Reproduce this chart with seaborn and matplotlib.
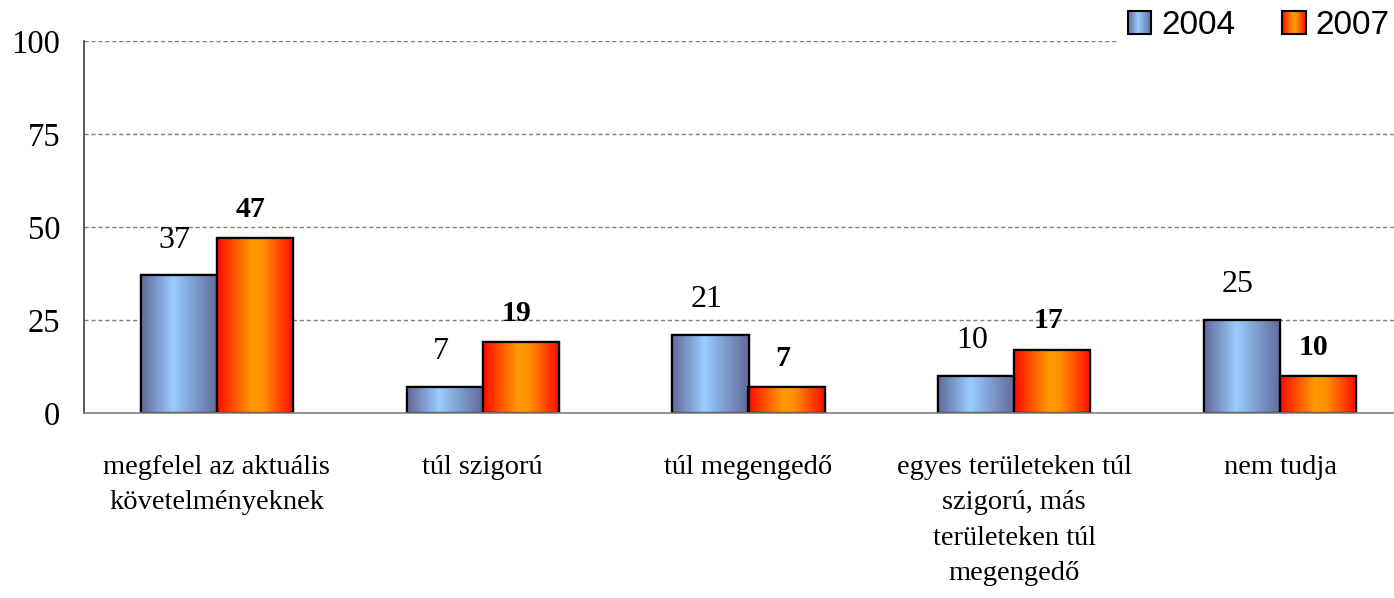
import numpy as np
import pandas as pd
import matplotlib
matplotlib.use("Agg")
import matplotlib.pyplot as plt
import seaborn as sns
from matplotlib.colors import LinearSegmentedColormap
from matplotlib.image import BboxImage
from matplotlib.transforms import Bbox, TransformedBbox
from matplotlib.legend_handler import HandlerBase
from matplotlib.patches import Rectangle

categories = [
    "megfelel az aktuális\nkövetelményeknek",
    "túl szigorú",
    "túl megengedő",
    "egyes területeken túl\nszigorú, más\nterületeken túl\nmegengedő",
    "nem tudja",
]
years = ["2004", "2007"]
values_2004 = [37, 7, 21, 10, 25]
values_2007 = [47, 19, 7, 17, 10]
y_ticks = [0, 25, 50, 75, 100]

df = pd.DataFrame({
    "category": categories * 2,
    "year": [years[0]] * len(categories) + [years[1]] * len(categories),
    "value": values_2004 + values_2007,
})

# horizontal "cylinder" gradients for each series
cmaps = {
    "2004": LinearSegmentedColormap.from_list(
        "blue_cyl", [(0, "#626898"), (0.42, "#99ccff"), (1, "#626898")]),
    "2007": LinearSegmentedColormap.from_list(
        "orange_cyl", [(0, "#ff0a00"), (0.45, "#ff9900"), (0.6, "#ff9000"), (1, "#ff0a00")]),
}
grad = np.linspace(0, 1, 256).reshape(1, -1)

sns.set_theme(style="white")
plt.rcParams["font.family"] = ["Liberation Serif", "DejaVu Serif"]
plt.rcParams["text.color"] = "black"
plt.rcParams["xtick.color"] = "black"
plt.rcParams["ytick.color"] = "black"

fig = plt.figure(figsize=(13.94, 5.98), dpi=100)
ax = fig.add_axes([84 / 1394, 1 - 413 / 598, (1413 - 84) / 1394, (413 - 41) / 598])

sns.barplot(data=df, x="category", y="value", hue="year", order=categories,
            hue_order=years, palette=["#8fb0e0", "#ff7a00"], width=0.572,
            gap=0, saturation=1, edgecolor="black", linewidth=1.6,
            legend=False, ax=ax)

ax.set_xlim(-0.5, len(categories) - 0.5)
ax.set_ylim(0, 100)
ax.set_yticks(y_ticks)
ax.set_yticklabels([str(t) for t in y_ticks], fontsize=23.5)

# category separators as x ticks, labels centred under groups
ax.set_xticks(np.arange(-0.5, len(categories) + 0.5, 1.0))
ax.set_xticklabels([])
ax.set_xticks(np.arange(len(categories)), minor=True)
ax.set_xticklabels(categories, minor=True, fontsize=20.5, linespacing=1.55)
ax.tick_params(axis="x", which="major", direction="out", length=12, width=1, color="#808080")
ax.tick_params(axis="x", which="minor", length=0, pad=30)
ax.tick_params(axis="y", direction="out", length=8, width=1, color="#808080", pad=9)
ax.set_xlabel("")
ax.set_ylabel("")

for y in y_ticks[1:]:
    ax.axhline(y, color="#808080", linestyle=(0, (3, 2)), linewidth=1, zorder=0)

for side in ["top", "right"]:
    ax.spines[side].set_visible(False)
ax.spines["left"].set_color("#404040")
ax.spines["left"].set_linewidth(1.2)
ax.spines["bottom"].set_color("#808080")
ax.spines["bottom"].set_linewidth(1.2)

# paint the gradient inside every bar and write its value above it
for container, year, vals in zip(ax.containers, years, [values_2004, values_2007]):
    for patch, v in zip(container.patches, vals):
        x0, w, h = patch.get_x(), patch.get_width(), patch.get_height()
        im = ax.imshow(grad, cmap=cmaps[year], aspect="auto",
                       extent=[x0, x0 + w, 0, h], zorder=patch.get_zorder() + 0.1,
                       interpolation="bilinear")
        im.set_clip_path(patch)
        edge = Rectangle((x0, 0), w, h, fill=False, edgecolor="black",
                         linewidth=1.6, zorder=patch.get_zorder() + 0.2)
        ax.add_patch(edge)
        if year == "2004":
            ax.annotate(str(v), (x0 + w / 2, h), xytext=(-3, 15), textcoords="offset points",
                        ha="center", va="bottom", fontsize=23)
        else:
            ax.annotate(str(v), (x0 + w / 2, h), xytext=(-3, 11), textcoords="offset points",
                        ha="center", va="bottom", fontsize=21.5, fontweight="bold")
ax.set_xlim(-0.5, len(categories) - 0.5)
ax.set_ylim(0, 100)


class GradientHandler(HandlerBase):
    def create_artists(self, legend, orig_handle, xdescent, ydescent, width, height,
                       fontsize, trans):
        size = height * 1.0
        x = -xdescent + (width - size)
        y = -ydescent + (height - size) / 2
        bb = TransformedBbox(Bbox.from_bounds(x, y, size, size), trans)
        img = BboxImage(bb, cmap=cmaps[orig_handle.get_label()], interpolation="bilinear")
        img.set_data(grad)
        frame = Rectangle((x, y), size, size, fill=False, edgecolor="black",
                          linewidth=1.5, transform=trans)
        return [img, frame]


handles = [Rectangle((0, 0), 1, 1, label=yr) for yr in years]
leg = fig.legend(handles=handles, labels=years, handler_map={Rectangle: GradientHandler()},
                 loc="upper right", bbox_to_anchor=(1.004, 1.0), ncol=2, frameon=True,
                 fancybox=False, edgecolor="white", facecolor="white", framealpha=1,
                 prop={"family": "Liberation Sans", "size": 24}, handlelength=0.7,
                 handletextpad=0.3, columnspacing=1.4, borderpad=0.3, borderaxespad=0.0)

fig.savefig("out.png", dpi=100)
